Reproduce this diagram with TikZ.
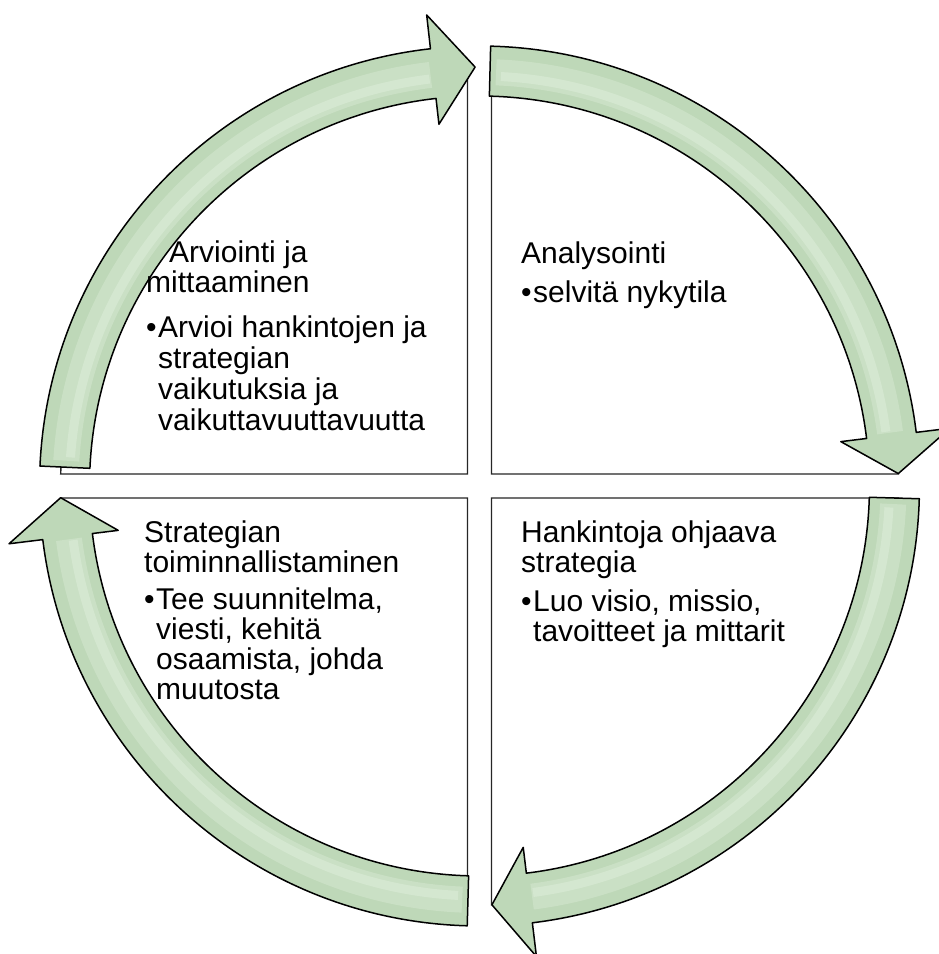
\documentclass[tikz,border=0pt]{standalone}
\usepackage{fontspec}
\setmainfont{Liberation Sans}
\definecolor{arrowfill}{RGB}{190,216,184}
\definecolor{arrowlight}{RGB}{226,240,222}
\begin{document}
\begin{tikzpicture}[x=1pt,y=1pt,
  quad/.style={fill=white,draw=black!85,line width=1.4pt},
  arr/.style={fill=arrowfill,draw=black,line width=1.5pt,line join=round},
  glossw/.style={draw=arrowlight,line width=26pt,line cap=butt,opacity=0.35},
  gloss/.style={draw=arrowlight,line width=9pt,line cap=butt,opacity=0.45},
  txt/.style={anchor=base west,inner sep=0pt,font=\fontsize{30pt}{30pt}\selectfont}]
\useasboundingbox (0,0) rectangle (938,954);
\begin{scope}[shift={(479.5,468)}]
  % quadrants
  \draw[quad] (-12pt,12pt) -- (178.36:419pt) arc[start angle=178.36,end angle=91.64,radius=419pt] -- cycle;
  \draw[quad] (12pt,12pt) -- (88.36:419pt) arc[start angle=88.36,end angle=1.64,radius=419pt] -- cycle;
  \draw[quad] (12pt,-12pt) -- (-1.64:419pt) arc[start angle=-1.64,end angle=-88.36,radius=419pt] -- cycle;
  \draw[quad] (-12pt,-12pt) -- (-91.64:419pt) arc[start angle=-91.64,end angle=-178.36,radius=419pt] -- cycle;
  % arrow 1 (left -> top)
  \draw[arr] (177.4:440pt) arc[start angle=177.4,end angle=96.4,radius=440pt] -- (96.4:474pt) -- (90.6:419pt) -- (96.4:364pt) -- (96.4:390pt) arc[start angle=96.4,end angle=177.4,radius=390pt] -- cycle;
  \draw[glossw] (176.5:414pt) arc[start angle=176.5,end angle=96.8,radius=414pt];
  \draw[gloss] (176:410pt) arc[start angle=176,end angle=97,radius=410pt];
  % arrow 2 (top -> right)
  \draw[arr] (88.55:440pt) arc[start angle=88.55,end angle=7,radius=440pt] -- (7:474pt) -- (1.7:419pt) -- (7:364pt) -- (7:390pt) arc[start angle=7,end angle=88.55,radius=390pt] -- cycle;
  \draw[glossw] (87.7:414pt) arc[start angle=87.7,end angle=7.4,radius=414pt];
  \draw[gloss] (87:410pt) arc[start angle=87,end angle=7.6,radius=410pt];
  % arrow 3 (right -> bottom)
  \draw[arr] (-1.66:440pt) arc[start angle=-1.66,end angle=-83.1,radius=440pt] -- (-83.1:474pt) -- (-88.3:419pt) -- (-83.1:364pt) -- (-83.1:390pt) arc[start angle=-83.1,end angle=-1.66,radius=390pt] -- cycle;
  \draw[glossw] (-2.5:414pt) arc[start angle=-2.5,end angle=-82.7,radius=414pt];
  \draw[gloss] (-3:410pt) arc[start angle=-3,end angle=-82.5,radius=410pt];
  % arrow 4 (bottom -> left)
  \draw[arr] (-91.6:440pt) arc[start angle=-91.6,end angle=-173,radius=440pt] -- (-173:474pt) -- (-178.4:419pt) -- (-173:364pt) -- (-173:390pt) arc[start angle=-173,end angle=-91.6,radius=390pt] -- cycle;
  \draw[glossw] (-92.4:414pt) arc[start angle=-92.4,end angle=-172.6,radius=414pt];
  \draw[gloss] (-93:410pt) arc[start angle=-93,end angle=-172.4,radius=410pt];
\end{scope}
% texts: top left
\node[txt] (tlh1) at (169,691) {Arviointi ja};
\node[txt] (tlh2) at (146,661) {mittaaminen};
\node[txt] (tlb1) at (146,616) {\makebox[12pt][l]{•}Arvioi hankintojen ja};
\node[txt] (tlb2) at (158,585) {strategian};
\node[txt] (tlb3) at (158,554) {vaikutuksia ja};
\node[txt] (tlb4) at (158,523) {vaikuttavuuttavuutta};
% top right
\node[txt] (trh1) at (521,690) {Analysointi};
\node[txt] (trb1) at (521,651) {\makebox[12pt][l]{•}selvitä nykytila};
% bottom right
\node[txt] (brh1) at (521,411) {Hankintoja ohjaava};
\node[txt] (brh2) at (521,381) {strategia};
\node[txt] (brb1) at (521,342) {\makebox[12pt][l]{•}Luo visio, missio,};
\node[txt] (brb2) at (533,312) {tavoitteet ja mittarit};
% bottom left
\node[txt] (blh1) at (144,411) {Strategian};
\node[txt] (blh2) at (144,381) {toiminnallistaminen};
\node[txt] (blb1) at (144,344) {\makebox[12pt][l]{•}Tee suunnitelma,};
\node[txt] (blb2) at (156,314) {viesti, kehitä};
\node[txt] (blb3) at (156,284) {osaamista, johda};
\node[txt] (blb4) at (156,254) {muutosta};
\end{tikzpicture}
\end{document}
